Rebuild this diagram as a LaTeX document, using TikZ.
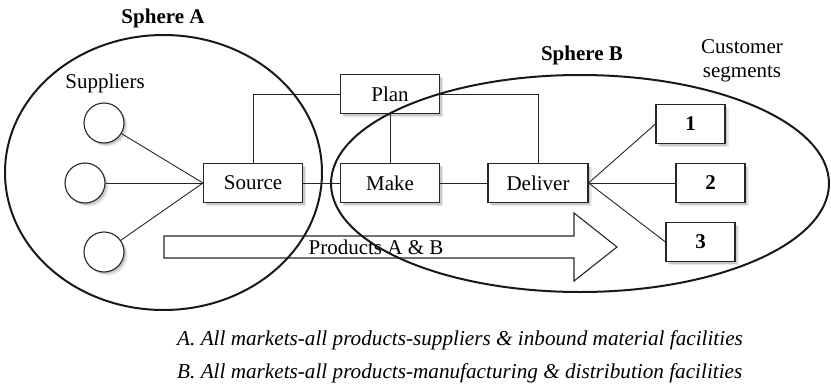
\documentclass[tikz,border=0pt]{standalone}
\usepackage{fontspec}
\setmainfont{Liberation Serif}
\usetikzlibrary{shadows}
\begin{document}
\begin{tikzpicture}[x=1pt,y=-1pt,
  every node/.style={font=\fontsize{21}{24}\selectfont},
  shd/.style={drop shadow={shadow xshift=3.5pt,shadow yshift=-3.5pt,opacity=0.15,fill=black!60},
              drop shadow={shadow xshift=2pt,shadow yshift=-2pt,opacity=0.25,fill=black!60}},
  pbox/.style={draw=black!85,line width=1.1pt,fill=white,shd,minimum width=99pt,minimum height=39pt,inner sep=0pt},
  cbox/.style={draw=black!85,line width=1.1pt,fill=white,shd,minimum width=69pt,minimum height=39pt,inner sep=0pt,font=\fontsize{21}{24}\selectfont\bfseries},
  sup/.style={circle,draw=black!85,line width=1.1pt,fill=white,shd,minimum size=40pt,inner sep=0pt},
  conn/.style={draw=black!85,line width=0.9pt},
  sphere/.style={draw=black!90,line width=2pt},
  lbl/.style={inner sep=0pt},
  captxt/.style={inner sep=0pt,anchor=west,font=\fontsize{21.2}{24}\selectfont\itshape}]
\useasboundingbox (0,0) rectangle (831,388);
% suppliers
\node[sup] (s1) at (104,123) {};
\node[sup] (s2) at (85,183) {};
\node[sup] (s3) at (104,252) {};
% process boxes
\node[pbox] (src) at (253,183) {Source};
\node[pbox] (plan) at (390,94) {Plan};
\node[pbox] (make) at (390,183) {Make};
\node[pbox,minimum width=100pt] (del) at (538,183) {Deliver};
% customer boxes
\node[cbox] (c1) at (690.5,124) {1};
\node[cbox] (c2) at (710.5,183) {2};
\node[cbox] (c3) at (700.5,242) {3};
% connectors
\draw[conn] (s1) -- (src.west);
\draw[conn] (s2) -- (src.west);
\draw[conn] (s3) -- (src.west);
\draw[conn] (src) -- (make);
\draw[conn] (make) -- (del);
\draw[conn] (plan.west) -| (src.north);
\draw[conn] (plan.east) -| (del.north);
\draw[conn] (plan) -- (make);
\draw[conn] (del.east) -- (c1.west);
\draw[conn] (del.east) -- (c2.west);
\draw[conn] (del.east) -- (c3.west);
% products arrow
\draw[line width=1.1pt,draw=black!85] (164,236) -- (574,236) -- (574,213) -- (617,247) -- (574,281) -- (574,258) -- (164,258) -- cycle;
\node[lbl] (prod) at (376,247) {Products A \& B};
% spheres
\draw[sphere] (163.5,172.5) ellipse [x radius=158.5, y radius=137.5];
\draw[sphere] (580,183.5) ellipse [x radius=249, y radius=108.5];
% labels
\node[lbl,font=\fontsize{21}{24}\selectfont\bfseries] (sa) at (163,18) {Sphere A};
\node[lbl,font=\fontsize{21}{24}\selectfont\bfseries] (sb) at (582,55) {Sphere B};
\node[lbl] (supl) at (105,83) {Suppliers};
\node[lbl,align=center] (cs) at (742,61) {Customer\\segments};
% captions
\node[captxt] (capA) at (177,340) {A. All markets-all products-suppliers \& inbound material facilities};
\node[captxt] (capB) at (177,373) {B. All markets-all products-manufacturing \& distribution facilities};
\end{tikzpicture}
\end{document}
